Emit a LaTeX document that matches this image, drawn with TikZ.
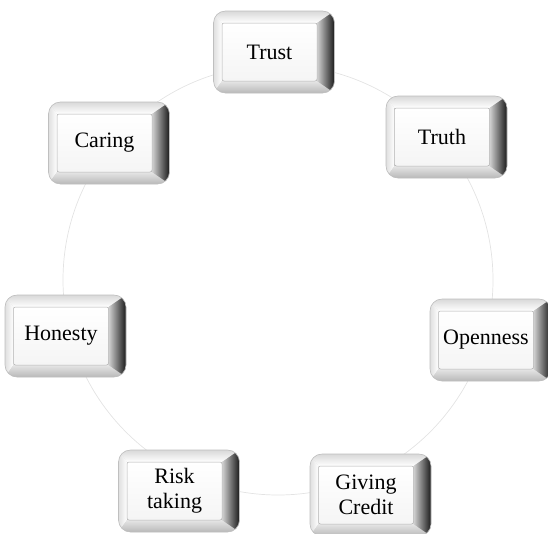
\documentclass[tikz,border=0pt]{standalone}
\usepackage{fontspec}
\setmainfont{Liberation Serif}
\begin{document}
\begin{tikzpicture}[x=1pt,y=1pt,
  face/.style={rectangle, rounded corners=2pt, minimum width=95pt, minimum height=58pt,
    inner sep=0pt, align=center, top color=white, bottom color=gray!8,
    draw=gray!60, line width=0.5pt, font=\fontsize{22}{25}\selectfont},
  ring/.style={draw=gray!22, line width=0.7pt}]
\useasboundingbox (0,0) rectangle (548,-533);
\coordinate (ctr) at (278,-280);
\draw[ring] (ctr) circle[radius=215];
\foreach \n/\x/\y/\t in {trust/269.5/52/Trust, truth/442/137/Truth, caring/104.5/143/Caring,
  honesty/61/336/Honesty, openness/486/340/Openness, risk/174.5/491/{Risk\\taking},
  credit/366/495/{Giving\\Credit}}{
  \begin{scope}[shift={(\x,-\y)}]
    \begin{scope}
      \path[clip, rounded corners=12pt] (-56,-41) rectangle (65,41);
      \fill[gray!40] (-56,-41) rectangle (65,41);
      \shade[top color=gray!30, bottom color=white] (-56,41) -- (65,41) -- (47.5,29) -- (-47.5,29) -- cycle;
      \shade[left color=gray!25, right color=white] (-56,41) -- (-47.5,29) -- (-47.5,-29) -- (-56,-41) -- cycle;
      \shade[top color=gray!20, bottom color=gray!55] (-56,-41) -- (-47.5,-29) -- (47.5,-29) -- (65,-41) -- cycle;
      \shade[left color=gray!35, right color=black!90] (65,41) -- (47.5,29) -- (47.5,-29) -- (65,-41) -- cycle;
    \end{scope}
    \draw[gray!50, line width=0.6pt, rounded corners=12pt] (-56,-41) rectangle (65,41);
  \end{scope}
  \node[face] (\n) at (\x,-\y) {\t};
}
\end{tikzpicture}
\end{document}
